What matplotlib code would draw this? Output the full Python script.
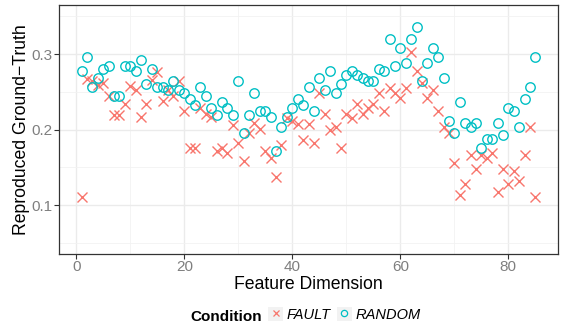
import numpy as np
import matplotlib
matplotlib.use("Agg")
import matplotlib.pyplot as plt
from matplotlib.lines import Line2D
from matplotlib.patches import Rectangle
from matplotlib.legend_handler import HandlerLine2D

plt.rcParams["font.family"] = ["Liberation Sans", "DejaVu Sans"]

feature = np.arange(1, 86)

fault = [0.111, 0.267, 0.264, 0.259, 0.262, 0.244, 0.220, 0.220, 0.234, 0.258,
         0.252, 0.217, 0.234, 0.266, 0.276, 0.238, 0.253, 0.245, 0.264, 0.224,
         0.176, 0.176, 0.229, 0.221, 0.217, 0.172, 0.176, 0.169, 0.206, 0.182,
         0.158, 0.196, 0.209, 0.201, 0.172, 0.162, 0.138, 0.180, 0.215, 0.212,
         0.208, 0.186, 0.208, 0.183, 0.248, 0.221, 0.200, 0.204, 0.176, 0.221,
         0.215, 0.234, 0.221, 0.229, 0.234, 0.248, 0.224, 0.255, 0.248, 0.242,
         0.255, 0.303, 0.277, 0.262, 0.242, 0.253, 0.224, 0.203, 0.196, 0.156,
         0.114, 0.128, 0.166, 0.148, 0.166, 0.162, 0.169, 0.117, 0.148, 0.128,
         0.145, 0.132, 0.166, 0.204, 0.111]

random_ = [0.277, 0.296, 0.256, 0.268, 0.280, 0.284, 0.244, 0.244, 0.284, 0.284,
           0.277, 0.292, 0.260, 0.280, 0.257, 0.257, 0.253, 0.264, 0.253, 0.248,
           0.240, 0.232, 0.256, 0.244, 0.229, 0.220, 0.237, 0.229, 0.220, 0.264,
           0.196, 0.220, 0.248, 0.224, 0.224, 0.217, 0.172, 0.204, 0.217, 0.229,
           0.240, 0.232, 0.256, 0.224, 0.268, 0.253, 0.277, 0.248, 0.260, 0.272,
           0.277, 0.272, 0.268, 0.264, 0.264, 0.280, 0.277, 0.320, 0.284, 0.308,
           0.288, 0.320, 0.336, 0.264, 0.288, 0.308, 0.296, 0.268, 0.212, 0.196,
           0.236, 0.209, 0.204, 0.209, 0.176, 0.188, 0.188, 0.209, 0.193, 0.229,
           0.224, 0.204, 0.240, 0.256, 0.296]

conditions = ["FAULT", "RANDOM"]
colors = {"FAULT": "#F8766D", "RANDOM": "#00BFC4"}


class BoxedKey(HandlerLine2D):
    # grey key background like ggplot legends
    def create_artists(self, legend, orig_handle, xdescent, ydescent, width, height, fontsize, trans):
        box = Rectangle((-xdescent, -ydescent), width, height, facecolor="#F2F2F2",
                        edgecolor="none", transform=trans)
        arts = super().create_artists(legend, orig_handle, xdescent, ydescent,
                                      width, height, fontsize, trans)
        return [box] + list(arts)


fig = plt.figure(figsize=(5.63, 3.25), dpi=100)
ax = fig.add_axes([59 / 563, 1 - 254 / 325, 499 / 563, 249 / 325])

ax.plot(feature, fault, linestyle="none", marker="x", ms=6.5, mew=1.0,
        color=colors["FAULT"], zorder=3)
ax.plot(feature, random_, linestyle="none", marker="o", ms=6.8, mew=1.0,
        mfc="none", mec=colors["RANDOM"], zorder=3)

ax.set_xlim(-3.2, 89.2)
ax.set_ylim(0.0356, 0.3648)
ax.set_xticks([0, 20, 40, 60, 80])
ax.set_xticks([10, 30, 50, 70], minor=True)
ax.set_yticks([0.1, 0.2, 0.3])
ax.set_yticks([0.05, 0.15, 0.25, 0.35], minor=True)
ax.set_yticklabels(["0.1", "0.2", "0.3"])

ax.grid(which="major", color="#EBEBEB", lw=1.0, zorder=0)
ax.grid(which="minor", color="#F2F2F2", lw=0.6, zorder=0)
ax.set_axisbelow(True)
ax.tick_params(which="major", length=3.5, width=0.8, color="#333333",
               labelsize=11, labelcolor="#7F7F7F", pad=1)
ax.tick_params(which="minor", length=0)
for s in ax.spines.values():
    s.set_color("#333333")
    s.set_linewidth(0.9)

ax.set_xlabel("Feature Dimension", fontsize=12.7, va="baseline")
ax.xaxis.set_label_coords(308.5 / 563, 1 - 289.3 / 325, transform=fig.transFigure)
ax.set_ylabel("Reproduced Ground\u2212Truth", fontsize=12.7, va="center")
ax.yaxis.set_label_coords(22 / 563, 1 - 130 / 325, transform=fig.transFigure)

# legend at the bottom
handles = [Line2D([], [], linestyle="none", marker="x", ms=4.5, mew=0.9, color=colors["FAULT"]),
           Line2D([], [], linestyle="none", marker="o", ms=4.5, mew=0.9, mfc="none",
                  mec=colors["RANDOM"])]
fig.text(262 / 563, 1 - 320.7 / 325, "Condition", fontsize=11, fontweight="bold",
         ha="right", va="baseline")
leg = fig.legend(handles, conditions, loc="center left",
                 bbox_to_anchor=(268 / 563, 1 - 314.7 / 325), ncol=2, frameon=False,
                 prop={"size": 10.5, "style": "italic"}, borderpad=0, borderaxespad=0,
                 handlelength=1.03, handleheight=1.1, handletextpad=0.27,
                 columnspacing=0.41, handler_map={Line2D: BoxedKey(numpoints=1)})

fig.savefig("out.png", dpi=100)
